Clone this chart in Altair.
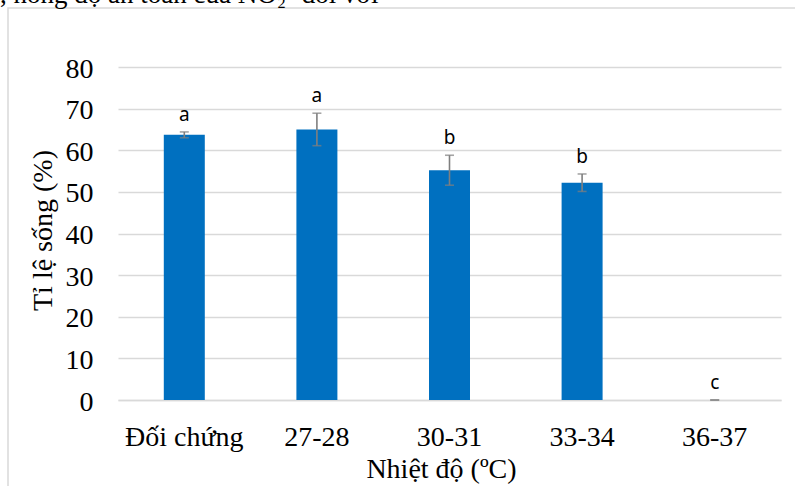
import altair as alt
import pandas as pd

groups = ["Đối chứng", "27-28", "30-31", "33-34", "36-37"]
means = [63.7, 65.0, 55.2, 52.2, 0.0]
sds = [0.7, 3.9, 3.6, 2.1, 0.0]
letters = ["a", "a", "b", "b", "c"]
y_ticks = [0, 10, 20, 30, 40, 50, 60, 70, 80]
caption = ", nồng độ an toàn của NO₂⁻ đối với"

df = pd.DataFrame({
    "group": groups,
    "mean": means,
    "sd": sds,
    "letter": letters,
})
df["lo"] = df["mean"] - df["sd"]
df["hi"] = df["mean"] + df["sd"]

SERIF = "Liberation Serif"
GRID = "#d9d9d9"

xscale = alt.Scale(domain=groups, paddingInner=0, paddingOuter=0)
yscale = alt.Scale(domain=[0, 80], nice=False)

xaxis = alt.Axis(
    title="Nhiệt độ (ºC)", labelAngle=0, ticks=False, domain=True,
    domainColor=GRID, domainWidth=1.5, labelFont=SERIF, labelFontSize=28,
    labelColor="black", labelBaseline="alphabetic", labelPadding=45,
    titleFont=SERIF, titleFontSize=28, titleFontWeight="normal",
    titleColor="black", titleBaseline="alphabetic", titleX=323, titleY=77,
    titleAlign="center",
)
yaxis = alt.Axis(
    title="Tỉ lệ sống (%)", values=y_ticks, ticks=False, domain=False,
    grid=True, gridColor=GRID, gridWidth=1.5, labelFont=SERIF,
    labelFontSize=28, labelColor="black", labelPadding=25,
    labelBaseline="alphabetic", labelOffset=10,
    titleFont=SERIF, titleFontSize=28, titleFontWeight="normal",
    titleColor="black", titleAngle=-90, titleBaseline="alphabetic",
    titleAlign="center", titleX=-67, titleY=163,
)

base = alt.Chart(df)
X = alt.X("group:N", sort=groups, scale=xscale, axis=xaxis)

bars = base.mark_bar(size=41, color="#0070C0").encode(
    x=X, y=alt.Y("mean:Q", scale=yscale, axis=yaxis)
)
err = base.mark_rule(color="#7f7f7f", strokeWidth=1.6).encode(
    x=X, y=alt.Y("lo:Q", scale=yscale, axis=yaxis), y2="hi:Q"
)
cap_hi = base.mark_tick(color="#7f7f7f", size=9, thickness=1.6).encode(
    x=X, y=alt.Y("hi:Q", scale=yscale, axis=yaxis)
)
cap_lo = base.mark_tick(color="#7f7f7f", size=9, thickness=1.6).encode(
    x=X, y=alt.Y("lo:Q", scale=yscale, axis=yaxis)
)
labels = base.mark_text(
    font="Noto Sans", fontSize=19, color="black", baseline="alphabetic",
    align="center", dy=-11,
).encode(x=X, y=alt.Y("hi:Q", scale=yscale, axis=yaxis), text="letter:N")

frame = alt.Chart(alt.Data(values=[{"k": 1}])).mark_rect(
    fill="transparent", stroke=GRID, strokeWidth=1.5
).encode(
    x=alt.value(-110), x2=alt.value(900), y=alt.value(-59), y2=alt.value(600)
)
cap_text = alt.Chart(alt.Data(values=[{"t": caption}])).mark_text(
    font=SERIF, fontSize=27, color="black", align="left", baseline="alphabetic"
).encode(x=alt.value(-118), y=alt.value(-64), text="t:N")

chart = alt.layer(frame, bars, err, cap_hi, cap_lo, labels, cap_text).properties(
    width=663, height=333,
    autosize=alt.AutoSizeParams(type="none"),
    padding={"left": 118, "top": 67, "right": 14, "bottom": 86},
    background="white",
).configure_view(stroke=None)

chart.save("out.html", embed_options={"renderer": "svg", "actions": False})
